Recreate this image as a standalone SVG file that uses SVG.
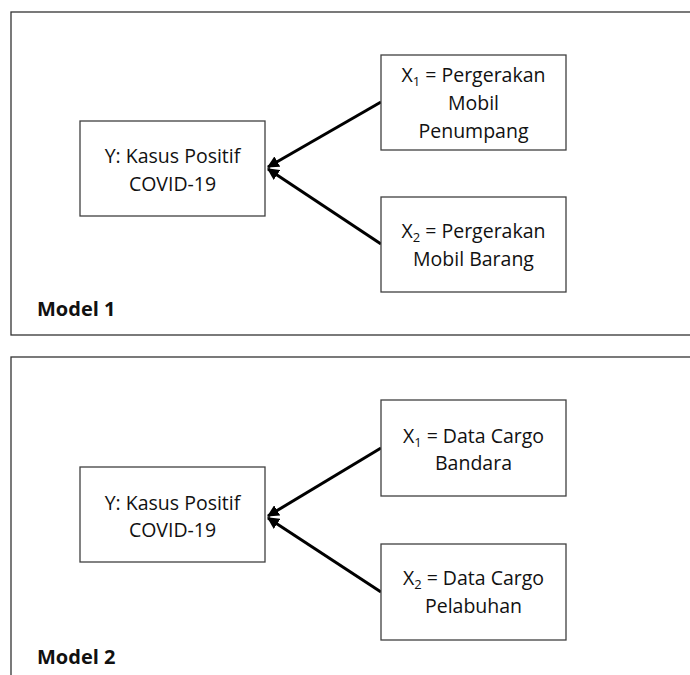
<svg xmlns="http://www.w3.org/2000/svg" width="690" height="675" viewBox="0 0 690 675">
<style>
.panel{fill:#fff;stroke:#333;stroke-width:1.3}
.box{fill:#fff;stroke:#404040;stroke-width:1.3}
.t{font-family:"Open Sans","Liberation Sans",sans-serif;font-size:19.5px;fill:#111;text-anchor:middle}
.lbl{font-family:"Open Sans","Liberation Sans",sans-serif;font-size:20px;font-weight:bold;fill:#111}
.sub{font-size:13px}
.edge{stroke:#000;stroke-width:3;fill:none;marker-end:url(#ah)}
</style>
<defs>
<marker id="ah" viewBox="0 0 10 10" refX="9" refY="5" markerWidth="4" markerHeight="4" orient="auto" markerUnits="strokeWidth">
<path d="M0,0 L10,5 L0,10 z" fill="#000"/>
</marker>
</defs>
<rect width="690" height="675" fill="#fff"/>
<g id="panel1">
<rect class="panel" x="11" y="12" width="690" height="323"/>
<text class="lbl" x="37" y="316">Model 1</text>
</g>
<g id="panel2">
<rect class="panel" x="11" y="357" width="690" height="330"/>
<text class="lbl" x="37" y="664">Model 2</text>
</g>
<g id="connectors">
<line class="edge" x1="381" y1="102" x2="268" y2="167"/>
<line class="edge" x1="381" y1="244" x2="268" y2="169"/>
<line class="edge" x1="381" y1="448" x2="268" y2="516"/>
<line class="edge" x1="381" y1="592" x2="268" y2="518"/>
</g>
<g id="y1">
<rect class="box" x="80" y="121" width="185" height="95"/>
<text class="t" x="172.5" y="163">Y: Kasus Positif</text>
<text class="t" x="172.5" y="191">COVID-19</text>
</g>
<g id="x1a">
<rect class="box" x="381" y="55" width="185" height="95"/>
<text class="t" x="473.5" y="82">X<tspan class="sub" dy="4">1</tspan><tspan dy="-4"> = Pergerakan</tspan></text>
<text class="t" x="473.5" y="110">Mobil</text>
<text class="t" x="473.5" y="138">Penumpang</text>
</g>
<g id="x2a">
<rect class="box" x="381" y="197" width="185" height="95"/>
<text class="t" x="473.5" y="238">X<tspan class="sub" dy="4">2</tspan><tspan dy="-4"> = Pergerakan</tspan></text>
<text class="t" x="473.5" y="266">Mobil Barang</text>
</g>
<g id="y2">
<rect class="box" x="80" y="467" width="185" height="95"/>
<text class="t" x="172.5" y="510">Y: Kasus Positif</text>
<text class="t" x="172.5" y="537">COVID-19</text>
</g>
<g id="x1b">
<rect class="box" x="381" y="400" width="185" height="96"/>
<text class="t" x="473.5" y="443">X<tspan class="sub" dy="4">1</tspan><tspan dy="-4"> = Data Cargo</tspan></text>
<text class="t" x="473.5" y="470">Bandara</text>
</g>
<g id="x2b">
<rect class="box" x="381" y="544" width="185" height="96"/>
<text class="t" x="473.5" y="585">X<tspan class="sub" dy="4">2</tspan><tspan dy="-4"> = Data Cargo</tspan></text>
<text class="t" x="473.5" y="613">Pelabuhan</text>
</g>
</svg>
